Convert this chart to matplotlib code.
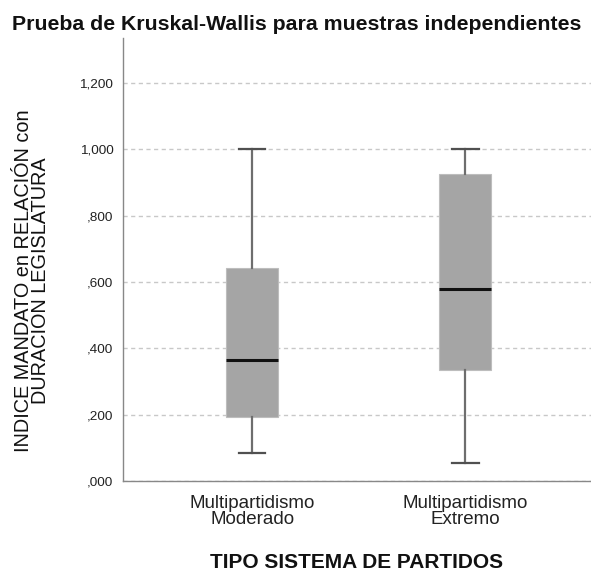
import matplotlib
matplotlib.use("Agg")
import matplotlib.pyplot as plt

categories = ["Multipartidismo\nModerado", "Multipartidismo\nExtremo"]
whislo = [0.085, 0.053]
q1 = [0.192, 0.335]
med = [0.366, 0.579]
q3 = [0.642, 0.925]
whishi = [1.000, 1.002]
yticks = [0.0, 0.2, 0.4, 0.6, 0.8, 1.0, 1.2]
ytick_labels = [",000", ",200", ",400", ",600", ",800", "1,000", "1,200"]

plt.rcParams['font.family'] = ['Liberation Sans', 'DejaVu Sans']

fig = plt.figure(figsize=(5.91, 5.75), dpi=100)
ax = fig.add_axes([123/591, 1-481/575, 1-123/591, (481-38)/575])

stats = []
for i, c in enumerate(categories):
    stats.append(dict(label=c, whislo=whislo[i], q1=q1[i], med=med[i],
                      q3=q3[i], whishi=whishi[i], fliers=[]))

ax.bxp(stats, positions=[1, 2], widths=0.245, patch_artist=True,
       showfliers=False,
       boxprops=dict(facecolor="#a5a5a5", edgecolor="#bdbdbd", linewidth=0.8),
       whiskerprops=dict(color="#6e6e6e", linewidth=1.6),
       capprops=dict(color="#505050", linewidth=1.6),
       medianprops=dict(color="#111111", linewidth=2.2),
       capwidths=0.125, zorder=3)

ax.set_xlim(0.394, 2.59)
ax.set_ylim(0, 1.336)
ax.set_yticks(yticks)
ax.set_yticklabels(ytick_labels, fontsize=9.7, color="#222222")
ax.set_xticks([1, 2])
ax.set_xticklabels(categories, fontsize=13.5, color="#222222", linespacing=0.9)
ax.tick_params(axis="both", length=0)
ax.tick_params(axis="y", pad=7)
ax.tick_params(axis="x", pad=10)

for y in yticks:
    ax.axhline(y, color="#c8c8c8", linewidth=1.0, linestyle=(0, (3, 2.5)), zorder=1)

for s in ["top", "right"]:
    ax.spines[s].set_visible(False)
for s in ["left", "bottom"]:
    ax.spines[s].set_color("#888888")
    ax.spines[s].set_linewidth(1.0)

fig.text(297/591, 1-25/575, "Prueba de Kruskal-Wallis para muestras independientes",
         ha="center", va="center", fontsize=15.3, fontweight="bold", color="#111111")
fig.text(357/591, 1-562/575, "TIPO SISTEMA DE PARTIDOS",
         ha="center", va="center", fontsize=15, fontweight="bold", color="#111111")
fig.text(32/591, 1-281/575, "INDICE MANDATO en RELACIÓN con\nDURACION LEGISLATURA",
         ha="center", va="center", rotation=90, fontsize=14.3, color="#111111",
         multialignment="center", linespacing=0.85)

fig.savefig("out.png", dpi=100)
